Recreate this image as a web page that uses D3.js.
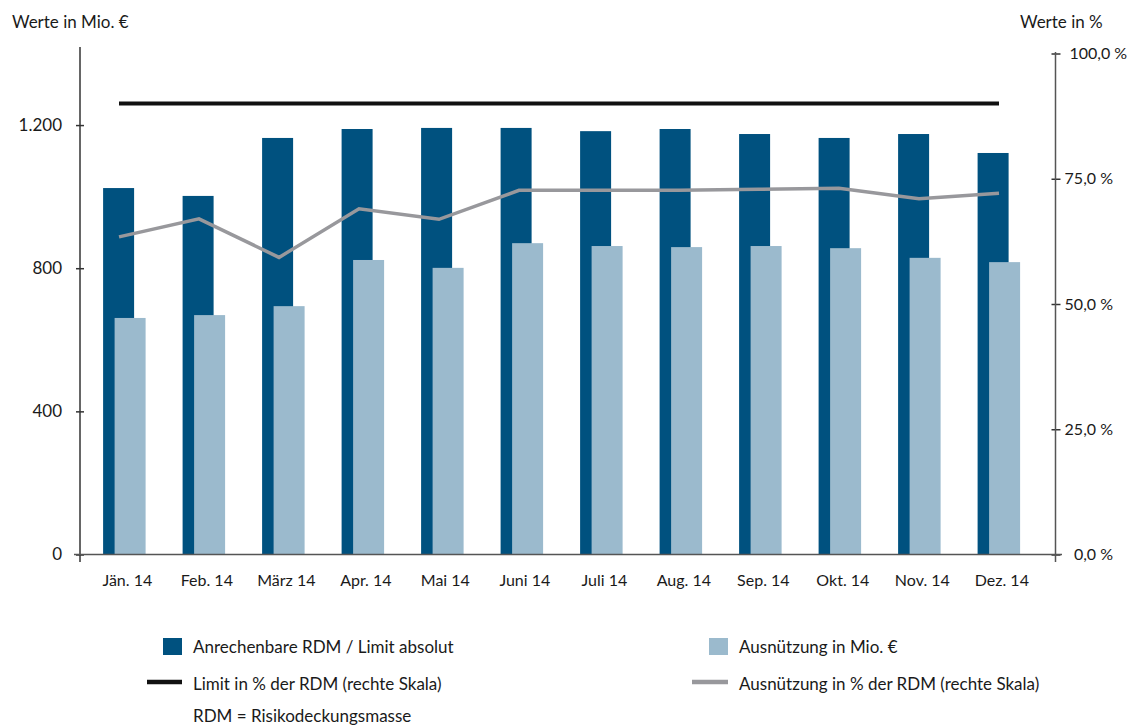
<!DOCTYPE html>
<html>
<head>
<meta charset="utf-8">
<script src="https://cdn.jsdelivr.net/npm/d3@7"></script>
<style>
  body { margin: 0; background: #fff; }
  text { font-family: Lato, sans-serif; fill: #1a1a1a; }
</style>
</head>
<body>
<div id="chart"></div>
<script>
// data
var months = ["Jän. 14", "Feb. 14", "März 14", "Apr. 14", "Mai 14", "Juni 14",
  "Juli 14", "Aug. 14", "Sep. 14", "Okt. 14", "Nov. 14", "Dez. 14"];
var rdmMio = [1024, 1002, 1164, 1189, 1192, 1192, 1183, 1189, 1175, 1164, 1175, 1122];
var ausnMio = [661, 669, 694, 823, 801, 870, 862, 859, 862, 856, 829, 817];
var limitPct = [90, 90, 90, 90, 90, 90, 90, 90, 90, 90, 90, 90];
var ausnPct = [63.4, 67.0, 59.3, 69.0, 66.9, 72.7, 72.7, 72.7, 72.9, 73.1, 71.0, 72.1];
var leftTicks = [0, 400, 800, 1200];
var rightTicks = [0, 25, 50, 75, 100];

var de = d3.formatLocale({decimal: ",", thousands: ".", grouping: [3], currency: ["", " €"]});
var fmtL = de.format(",.0f");
var fmtR = function(d) { return de.format(".1f")(d) + " %"; };

var W = 1127, H = 727;
var axL = 80, axR = 1055.5, base = 554.5, yTop = 53.5;

var svg = d3.select("#chart")
  .append("svg")
  .attr("width", W)
  .attr("height", H);

// scales
var yL = d3.scaleLinear().domain([0, 1400]).range([base, yTop]);
var yR = d3.scaleLinear().domain([0, 100]).range([base, yTop]);
var xBar = d3.scaleBand().domain(months).range([84.6, 1038.6]);
var xLine = d3.scalePoint().domain(months).range([119, 999]);

var barW = 31, off = 11.5;
var g0 = xBar.bandwidth() / 2 - (barW + off) / 2;

// bars: dark first, light one on top shifted right
svg.append("g").selectAll("rect")
  .data(months)
  .enter()
  .append("rect")
  .attr("x", function(d) { return xBar(d) + g0; })
  .attr("y", function(d, i) { return yL(rdmMio[i]); })
  .attr("width", barW)
  .attr("height", function(d, i) { return base - yL(rdmMio[i]); })
  .attr("fill", "#00517f");

svg.append("g").selectAll("rect")
  .data(months)
  .enter()
  .append("rect")
  .attr("x", function(d) { return xBar(d) + g0 + off; })
  .attr("y", function(d, i) { return yL(ausnMio[i]); })
  .attr("width", barW)
  .attr("height", function(d, i) { return base - yL(ausnMio[i]); })
  .attr("fill", "#9bbacd");

// lines on the right scale
var line = d3.line()
  .x(function(d) { return xLine(d.m); })
  .y(function(d) { return yR(d.v); });

svg.append("path")
  .datum(months.map(function(m, i) { return {m: m, v: ausnPct[i]}; }))
  .attr("d", line)
  .attr("fill", "none")
  .attr("stroke", "#98989c")
  .attr("stroke-width", 3.5);

svg.append("path")
  .datum(months.map(function(m, i) { return {m: m, v: limitPct[i]}; }))
  .attr("d", line)
  .attr("fill", "none")
  .attr("stroke", "#111")
  .attr("stroke-width", 4);

// axes
var gL = svg.append("g")
  .attr("transform", "translate(" + axL + ",0)")
  .call(d3.axisLeft(yL).tickValues(leftTicks).tickFormat(fmtL).tickSize(4).tickPadding(14));
gL.select(".domain").remove();
gL.selectAll(".tick line").attr("x1", 4).attr("stroke", "#333").attr("stroke-width", 1.5);
gL.selectAll("text").style("font-size", "17px").style("font-family", "Lato, sans-serif").attr("fill", "#1a1a1a");

var gR = svg.append("g")
  .attr("transform", "translate(" + axR + ",0)")
  .call(d3.axisRight(yR).tickValues(rightTicks).tickFormat(fmtR).tickSize(5).tickPadding(10));
gR.select(".domain").remove();
gR.selectAll(".tick line").attr("x1", -4).attr("stroke", "#333").attr("stroke-width", 1.5);
gR.selectAll("text")
  .style("font-size", "16px").style("font-family", "Lato, sans-serif").attr("fill", "#1a1a1a")
  .attr("text-anchor", function(d) { return d === 100 ? "start" : "end"; })
  .attr("x", function(d) { return d === 100 ? 14 : 57.5; });

svg.append("line")
  .attr("x1", axL).attr("x2", axL).attr("y1", 47).attr("y2", 562)
  .attr("stroke", "#333").attr("stroke-width", 1.5);
svg.append("line")
  .attr("x1", axR).attr("x2", axR).attr("y1", 52).attr("y2", 562)
  .attr("stroke", "#555").attr("stroke-width", 1.5);
svg.append("line")
  .attr("x1", 74).attr("x2", 1062).attr("y1", base).attr("y2", base)
  .attr("stroke", "#555").attr("stroke-width", 1.5);

// month labels
svg.append("g").selectAll("text")
  .data(months)
  .enter()
  .append("text")
  .attr("x", function(d) { return xBar(d) + xBar.bandwidth() / 2 + 3; })
  .attr("y", 586)
  .attr("text-anchor", "middle")
  .style("font-size", "16px")
  .text(function(d) { return d; });

// axis titles
svg.append("text").attr("x", 12).attr("y", 28).style("font-size", "17px").text("Werte in Mio. €");
svg.append("text").attr("x", 1020).attr("y", 28).style("font-size", "17px").text("Werte in %");

// legend
var lg = svg.append("g").style("font-size", "17px");
lg.append("rect").attr("x", 163).attr("y", 638).attr("width", 19).attr("height", 17).attr("fill", "#00517f");
lg.append("text").attr("x", 193).attr("y", 653).text("Anrechenbare RDM / Limit absolut");
lg.append("rect").attr("x", 709).attr("y", 638).attr("width", 19).attr("height", 17).attr("fill", "#9bbacd");
lg.append("text").attr("x", 739).attr("y", 653).text("Ausnützung in Mio. €");
lg.append("line").attr("x1", 147).attr("x2", 182).attr("y1", 682).attr("y2", 682)
  .attr("stroke", "#111").attr("stroke-width", 4.5);
lg.append("text").attr("x", 193).attr("y", 690).text("Limit in % der RDM (rechte Skala)");
lg.append("line").attr("x1", 692).attr("x2", 728).attr("y1", 682).attr("y2", 682)
  .attr("stroke", "#98989c").attr("stroke-width", 4.5);
lg.append("text").attr("x", 739).attr("y", 690).text("Ausnützung in % der RDM (rechte Skala)");
lg.append("text").attr("x", 193).attr("y", 722).text("RDM = Risikodeckungsmasse");
</script>
</body>
</html>
